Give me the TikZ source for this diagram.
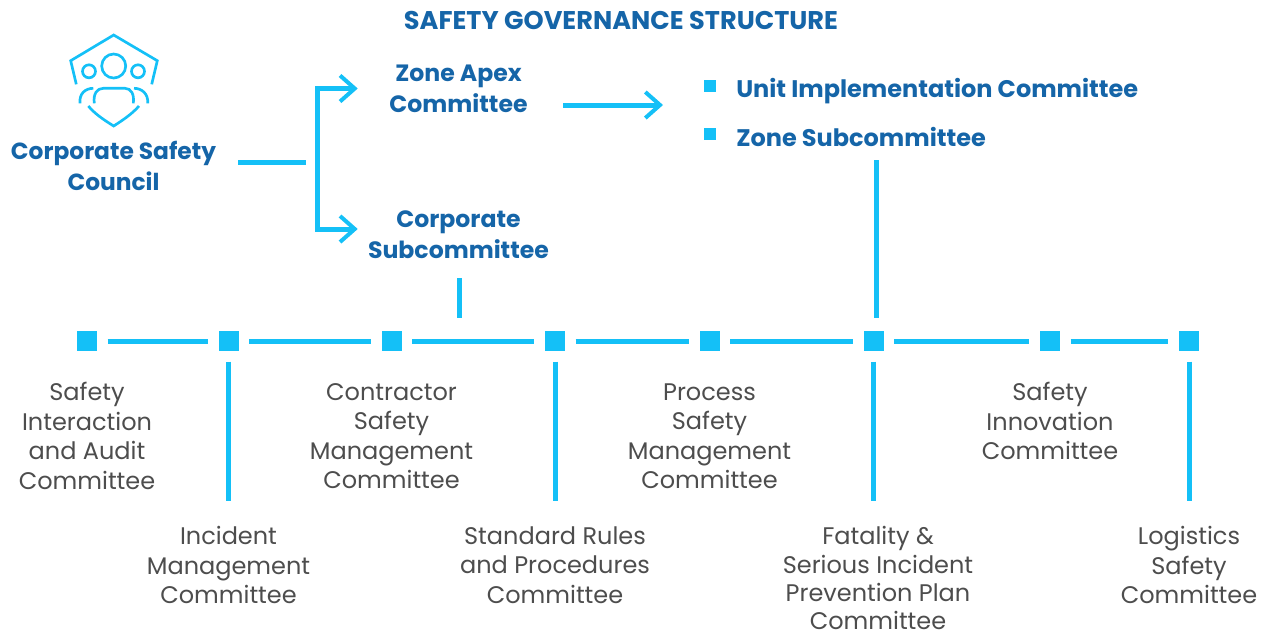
\documentclass[tikz,border=0pt]{standalone}
\usepackage{fontspec}
\setmainfont{Poppins}
\usetikzlibrary{arrows.meta}
\definecolor{linecyan}{HTML}{14C0F7}
\definecolor{headblue}{HTML}{1565A8}
\definecolor{labelgrey}{HTML}{4D4D4D}
\tikzset{
  headtext/.style={inner sep=0pt,text=headblue,align=center,font=\fontsize{17.7}{23.25}\selectfont\bfseries},
  bluebox/.style={headtext,minimum width=153.75pt},
  labeltext/.style={inner sep=0pt,text=labelgrey,align=center,font=\fontsize{18}{22.1}\selectfont},
  marker/.style={fill=linecyan,inner sep=0pt,minimum size=15pt,outer sep=8pt},
  bullet/.style={fill=linecyan,inner sep=0pt,minimum size=9pt},
  flowline/.style={draw=linecyan,line width=3.75pt},
  flowarrow/.style={flowline,-{Straight Barb[length=11pt,width=19.5pt,line width=3pt,sharp]}},
  iconline/.style={draw=linecyan,line width=2pt}
}
\begin{document}
\begin{tikzpicture}[x=0.75pt,y=0.75pt,yscale=-1,xscale=1]
\useasboundingbox (0,0) rectangle (1268,637);
% title
\node[headtext,font=\fontsize{19.2}{23}\selectfont\bfseries] (title) at (621,20.5) {SAFETY GOVERNANCE STRUCTURE};
% icon
\draw[iconline] (76.3,84.3) -- (70.7,60.7) -- (113.7,35) -- (157.3,60.7) -- (151.7,84.3);
\draw[iconline] (113.7,66) circle (12);
\draw[iconline] (89,71.3) circle (6.5);
\draw[iconline] (138,71.3) circle (6.5);
\draw[iconline] (94.3,103.3) .. controls (93,94) and (97,88.3) .. (103.3,88.3) -- (125,88.3) .. controls (131,88.3) and (134.5,94) .. (133.3,103.3);
\draw[iconline] (80,103.3) .. controls (79,94) and (85,88.3) .. (93.3,88.3);
\draw[iconline] (134,88.3) .. controls (142,88.3) and (148.5,94) .. (147.7,103.3);
\draw[iconline] (88.3,106) .. controls (95,114) and (104,120) .. (113.7,126) .. controls (123,120) and (132,114) .. (139,106);
% top row
\node[headtext,font=\fontsize{17.5}{23.25}\selectfont\bfseries,minimum width=153.75pt,outer xsep=16.5pt] (council) at (113.5,165.5) {Corporate Safety\\Council};
\node[bluebox] (zoneapex) at (458.5,88.5) {Zone Apex\\Committee};
\node[bluebox] (corpsub) at (458.5,234.5) {Corporate\\Subcommittee};
\node[bullet] (bulletunit) at (709.5,85.5) {};
\node[bullet] (bulletzone) at (709.5,134) {};
\node[headtext,anchor=west,font=\fontsize{18}{23.25}\selectfont\bfseries] (unitimpl) at (736,91) {Unit Implementation Committee};
\node[headtext,anchor=west,font=\fontsize{18}{23.25}\selectfont\bfseries] (zonesub) at (736,137) {Zone Subcommittee};
\coordinate (councilend) at (306,162);
\coordinate (brtop) at (317,88.5);
\coordinate (brbot) at (317,229);
\coordinate (unittip) at (663,105);
\coordinate (subdrop) at (459,278);
\coordinate (subfoot) at (459,318);
\coordinate (zonedrop) at (876,160);
\coordinate (zonefoot) at (876,318);
\draw[flowline] (council.east |- councilend) -- (councilend);
\draw[flowline,line cap=rect] (brtop) -- (brbot);
\draw[flowarrow,shorten >=-1.5pt] (brtop) -- (zoneapex.west);
\draw[flowarrow,shorten >=-1.5pt] (brbot) -- (corpsub.west |- brbot);
\draw[flowarrow,shorten <=1.5pt] (zoneapex.east |- unittip) -- (unittip);
\draw[flowline] (subdrop) -- (subfoot);
\draw[flowline] (zonedrop) -- (zonefoot);
% markers
\node[marker] (m1) at (87,341) {};
\node[marker] (m2) at (228.5,341) {};
\node[marker] (m3) at (391.5,341) {};
\node[marker] (m4) at (555,341) {};
\node[marker] (m5) at (709.5,341) {};
\node[marker] (m6) at (873.5,341) {};
\node[marker] (m7) at (1050,341) {};
\node[marker] (m8) at (1189,341) {};
\foreach \a/\b in {m1/m2,m2/m3,m3/m4,m4/m5,m5/m6,m6/m7,m7/m8}
  \draw[flowline] (\a) -- (\b);
% labels
\node[labeltext] (l1) at (87,436) {Safety\\Interaction\\and Audit\\Committee};
\node[labeltext] (l3) at (391.5,436.3) {Contractor\\Safety\\Management\\Committee};
\node[labeltext] (l5) at (709.5,436.3) {Process\\Safety\\Management\\Committee};
\node[labeltext] (l7) at (1050,421) {Safety\\Innovation\\Committee};
\node[labeltext] (l2) at (228.5,565) {Incident\\Management\\Committee};
\node[labeltext] (l4) at (555,565) {Standard Rules\\and Procedures\\Committee};
\node[labeltext,font=\fontsize{18}{21.2}\selectfont] (l6) at (878,578.3) {Fatality \&\\Serious Incident\\Prevention Plan\\Committee};
\node[labeltext] (l8) at (1189,565) {Logistics\\Safety\\Committee};
\foreach \m in {m2,m4,m6,m8}{
  \coordinate (\m tail) at (\m |- 0,501);
  \draw[flowline] (\m) -- (\m tail);
}
\end{tikzpicture}
\end{document}
